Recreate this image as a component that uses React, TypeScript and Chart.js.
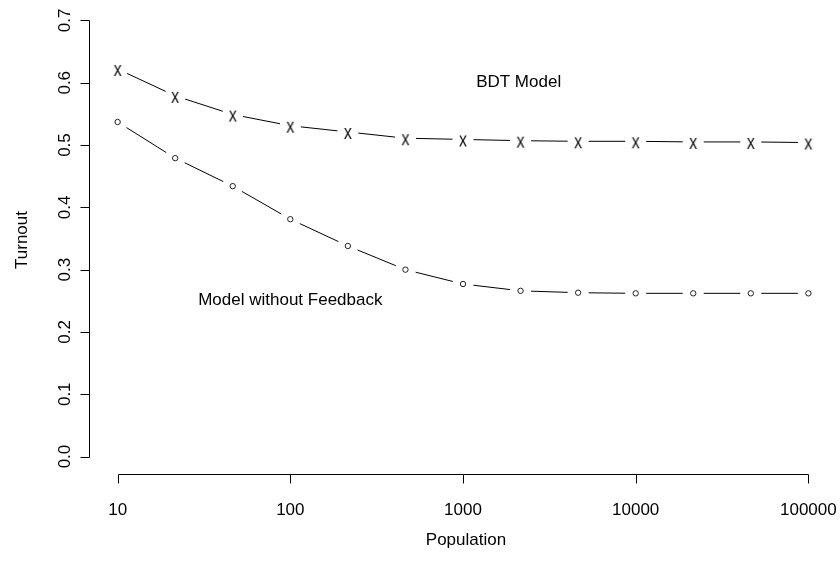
import React, { useEffect, useRef } from "react";
import { Chart, registerables } from "chart.js";

Chart.register(...registerables);

// ---- data ----
const populations = [10, 21.54, 46.42, 100, 215.4, 464.2, 1000, 2154, 4642, 10000, 21544, 46416, 100000];
const bdtTurnout = [0.622, 0.579, 0.549, 0.531, 0.521, 0.511, 0.509, 0.507, 0.506, 0.506, 0.505, 0.505, 0.504];
const noFeedbackTurnout = [0.537, 0.479, 0.434, 0.381, 0.338, 0.3, 0.277, 0.266, 0.263, 0.262, 0.262, 0.262, 0.262];

const xTickValues = [10, 100, 1000, 10000, 100000];
const xTickLabels = ["10", "100", "1000", "10000", "100000"];
const yTickValues = [0, 0.1, 0.2, 0.3, 0.4, 0.5, 0.6, 0.7];
const yTickLabels = ["0.0", "0.1", "0.2", "0.3", "0.4", "0.5", "0.6", "0.7"];

const annotationTexts = ["BDT Model", "Model without Feedback"];
const annotationX = [2100, 100];
const annotationY = [0.6, 0.25];

const xTitle = "Population";
const yTitle = "Turnout";

// ---- layout / style ----
const FONT = '17px "Liberation Sans", Arial, sans-serif';
const X_MIN = Math.pow(10, 0.84);
const X_MAX = Math.pow(10, 5.16);
const Y_MIN = -0.028;
const Y_MAX = 0.728;
const LINE_GAP = 10.5;

function makeXMarker(): HTMLCanvasElement {
  const c = document.createElement("canvas");
  c.width = 12;
  c.height = 20;
  const g = c.getContext("2d")!;
  g.fillStyle = "#111";
  g.font = '16px "Liberation Sans", Arial, sans-serif';
  g.textAlign = "center";
  g.textBaseline = "alphabetic";
  g.translate(6, 17.2);
  g.scale(1, 1.25);
  g.fillText("x", 0, 0);
  return c;
}

const gapLinesPlugin = {
  id: "gapLines",
  beforeDatasetsDraw(chart: any) {
    const ctx = chart.ctx as CanvasRenderingContext2D;
    ctx.save();
    ctx.strokeStyle = "#000";
    ctx.lineWidth = 1;
    chart.data.datasets.forEach((_d: any, di: number) => {
      const pts = chart.getDatasetMeta(di).data;
      ctx.beginPath();
      for (let i = 0; i < pts.length - 1; i++) {
        const a = pts[i];
        const b = pts[i + 1];
        const dx = b.x - a.x;
        const dy = b.y - a.y;
        const len = Math.hypot(dx, dy);
        if (len <= 2 * LINE_GAP) continue;
        const ux = dx / len;
        const uy = dy / len;
        ctx.moveTo(a.x + ux * LINE_GAP, a.y + uy * LINE_GAP);
        ctx.lineTo(b.x - ux * LINE_GAP, b.y - uy * LINE_GAP);
      }
      ctx.stroke();
    });
    ctx.restore();
  },
};

const axesPlugin = {
  id: "rAxes",
  afterDraw(chart: any) {
    const ctx = chart.ctx as CanvasRenderingContext2D;
    const xs = chart.scales.x;
    const ys = chart.scales.y;
    const area = chart.chartArea;
    ctx.save();
    ctx.strokeStyle = "#000";
    ctx.fillStyle = "#000";
    ctx.lineWidth = 1;
    ctx.font = FONT;

    // y axis
    const ax = Math.round(area.left) - 0.5;
    const yTop = ys.getPixelForValue(yTickValues[yTickValues.length - 1]);
    const yBot = ys.getPixelForValue(yTickValues[0]);
    ctx.beginPath();
    ctx.moveTo(ax, Math.round(yTop) + 0.5);
    ctx.lineTo(ax, Math.round(yBot) + 0.5);
    yTickValues.forEach((v) => {
      const py = Math.round(ys.getPixelForValue(v)) + 0.5;
      ctx.moveTo(ax, py);
      ctx.lineTo(ax - 9, py);
    });
    ctx.stroke();
    ctx.textAlign = "center";
    ctx.textBaseline = "alphabetic";
    yTickValues.forEach((v, i) => {
      const py = ys.getPixelForValue(v);
      ctx.save();
      ctx.translate(70, py);
      ctx.rotate(-Math.PI / 2);
      ctx.fillText(yTickLabels[i], 0, 0);
      ctx.restore();
    });

    // x axis
    const ay = Math.round(area.bottom) + 0.5;
    const xL = xs.getPixelForValue(xTickValues[0]);
    const xR = xs.getPixelForValue(xTickValues[xTickValues.length - 1]);
    ctx.beginPath();
    ctx.moveTo(Math.round(xL) + 0.5, ay);
    ctx.lineTo(Math.round(xR) + 0.5, ay);
    xTickValues.forEach((v) => {
      const px = Math.round(xs.getPixelForValue(v)) + 0.5;
      ctx.moveTo(px, ay);
      ctx.lineTo(px, ay + 9);
    });
    ctx.stroke();
    xTickValues.forEach((v, i) => {
      ctx.fillText(xTickLabels[i], xs.getPixelForValue(v), 515);
    });

    // titles
    ctx.fillText(xTitle, 466, 545);
    ctx.save();
    ctx.translate(27, 240);
    ctx.rotate(-Math.PI / 2);
    ctx.fillText(yTitle, 0, 0);
    ctx.restore();

    // annotations
    ctx.textBaseline = "middle";
    annotationTexts.forEach((t, i) => {
      ctx.fillText(t, xs.getPixelForValue(annotationX[i]), ys.getPixelForValue(annotationY[i]));
    });
    ctx.restore();
  },
};

export default function App() {
  const ref = useRef<HTMLCanvasElement | null>(null);
  useEffect(() => {
    if (!ref.current) return;
    const xMarker = makeXMarker();
    const chart = new Chart(ref.current, {
      type: "line",
      data: {
        datasets: [
          {
            label: "BDT Model",
            data: populations.map((p, i) => ({ x: p, y: bdtTurnout[i] })),
            showLine: false,
            pointStyle: xMarker as any,
            pointRadius: 5,
          },
          {
            label: "Model without Feedback",
            data: populations.map((p, i) => ({ x: p, y: noFeedbackTurnout[i] })),
            showLine: false,
            pointStyle: "circle",
            pointRadius: 2.7,
            pointBorderWidth: 1,
            pointBorderColor: "#222",
            pointBackgroundColor: "rgba(255,255,255,0)",
          },
        ],
      },
      options: {
        animation: false,
        responsive: true,
        maintainAspectRatio: false,
        events: [],
        layout: { autoPadding: false, padding: { left: 90, right: 4, top: 3, bottom: 87 } },
        scales: {
          x: { type: "logarithmic", min: X_MIN, max: X_MAX, display: false },
          y: { type: "linear", min: Y_MIN, max: Y_MAX, display: false },
        },
        plugins: {
          legend: { display: false },
          tooltip: { enabled: false },
        },
      },
      plugins: [gapLinesPlugin, axesPlugin],
    });
    return () => chart.destroy();
  }, []);

  return (
    <div style={{ position: "fixed", left: 0, top: 0, width: 840, height: 561, background: "#fff" }}>
      <canvas ref={ref} />
    </div>
  );
}
